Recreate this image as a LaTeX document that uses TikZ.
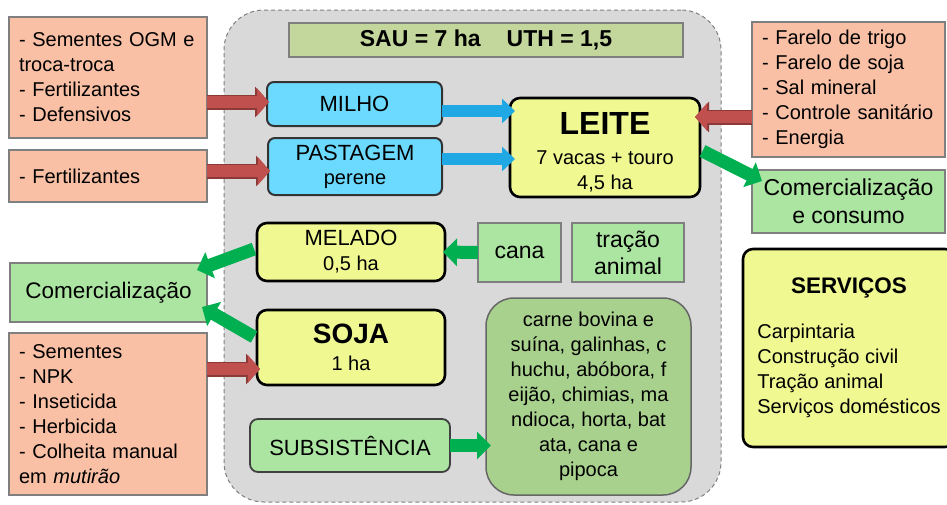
\documentclass[tikz,border=0pt]{standalone}
\usepackage{fontspec}
\setmainfont{Liberation Sans}
\usetikzlibrary{arrows.meta,calc}
\definecolor{peach}{HTML}{F9C0A5}
\definecolor{cyanf}{HTML}{6CDAFE}
\definecolor{yelf}{HTML}{EFF891}
\definecolor{lgreen}{HTML}{ACE5A1}
\definecolor{saug}{HTML}{C3D69B}
\definecolor{prodg}{HTML}{A9D18E}
\definecolor{regiong}{HTML}{D9D9D9}
\definecolor{edgegray}{HTML}{7F7F7F}
\definecolor{redar}{HTML}{C0504D}
\definecolor{redark}{HTML}{8C3A38}
\definecolor{bluear}{HTML}{1FA8E4}
\definecolor{greenar}{HTML}{00B050}
\begin{document}
\begin{tikzpicture}[x=1pt,y=-1pt,
  every node/.style={inner sep=0pt,outer sep=0pt,text=black},
  region/.style={draw=edgegray,dash pattern=on 4pt off 3pt,line width=1pt,fill=regiong,rounded corners=40pt},
  inbox/.style={draw=edgegray,line width=1.2pt,fill=peach,align=left,inner xsep=10pt,font=\fontsize{20}{25}\selectfont},
  outbox/.style={draw=edgegray,line width=1.2pt,fill=lgreen,align=center,font=\fontsize{23}{28}\selectfont},
  cyanbox/.style={draw=black!80,line width=2pt,fill=cyanf,rounded corners=7pt,align=center,font=\fontsize{22}{24}\selectfont},
  yelbox/.style={draw=black,line width=2.6pt,fill=yelf,rounded corners=10pt,align=center,font=\fontsize{20}{25}\selectfont},
  redarr/.style={preaction={draw=redark,line width=15pt,-{Triangle[length=14pt,width=30pt]}},
                 draw=redar,line width=12.5pt,-{Triangle[length=12pt,width=27pt]}},
  bluearr/.style={draw=bluear,line width=12pt,-{Triangle[length=13pt,width=24pt]}},
  greenarr/.style={draw=greenar,line width=13pt,-{Triangle[length=14pt,width=27pt]}}
]
\useasboundingbox (0,0) rectangle (947,504);

\node[region,minimum width=497pt,minimum height=492pt] (farm) at (472.5,256) {};
\node[draw=edgegray,line width=1.2pt,fill=saug,minimum width=394pt,minimum height=34pt,font=\fontsize{23}{25}\selectfont\bfseries] (sau) at (486,40) {SAU = 7 ha\hspace{26pt}UTH = 1,5};

\node[inbox,text width=178pt,minimum height=121pt] (in1) at (108,77.5) {- Sementes OGM e\\troca-troca\\- Fertilizantes\\- Defensivos};
\node[inbox,text width=178pt,minimum height=52pt] (in2) at (108,176) {- Fertilizantes};
\node[inbox,text width=173pt,minimum height=135pt] (in3) at (848.5,89.5) {- Farelo de trigo\\- Farelo de soja\\- Sal mineral\\- Controle sanitário\\- Energia};
\node[inbox,text width=178pt,minimum height=162pt] (in4) at (108,414) {- Sementes\\- NPK\\- Inseticida\\- Herbicida\\- Colheita manual\\em \textit{mutirão}};

\node[cyanbox,minimum width=175pt,minimum height=44pt] (milho) at (354.5,104) {MILHO};
\node[cyanbox,minimum width=174pt,minimum height=57pt] (past) at (355,166.5) {PASTAGEM\\{\fontsize{20}{24}\selectfont perene}};

\node[yelbox,minimum width=190pt,minimum height=99pt] (leite) at (605,147.5) {\rule{0pt}{32pt}{\fontsize{32}{34}\selectfont\bfseries LEITE}\\[5pt]7 vacas + touro\\4,5 ha};
\node[yelbox,minimum width=188pt,minimum height=58pt,font=\fontsize{22}{25}\selectfont] (melado) at (351,252) {MELADO\\{\fontsize{20}{25}\selectfont 0,5 ha}};
\node[yelbox,minimum width=188pt,minimum height=75pt] (soja) at (351,347.5) {{\fontsize{28}{30}\selectfont\bfseries SOJA}\\[2pt]1 ha};

\node[outbox,minimum width=83pt,minimum height=59pt] (cana) at (519.5,252.5) {cana};
\node[outbox,minimum width=112pt,minimum height=59pt,font=\fontsize{23}{27}\selectfont] (tracao) at (628,252.5) {tração\\animal};
\node[outbox,minimum width=197pt,minimum height=59pt,font=\fontsize{22.5}{27}\selectfont] (comL) at (108.5,292.5) {Comercialização};
\node[outbox,minimum width=193pt,minimum height=63pt,font=\fontsize{23}{28}\selectfont] (comR) at (848.5,201.5) {Comercialização\\e consumo};

\node[draw=black!75,line width=1.8pt,fill=lgreen,rounded corners=8pt,minimum width=200pt,minimum height=53pt,font=\fontsize{22}{24}\selectfont] (subs) at (350,445.5) {SUBSISTÊNCIA};
\node[draw=edgegray!80!black,line width=1.5pt,fill=prodg,rounded corners=28pt,minimum width=205pt,minimum height=197pt,align=center,font=\fontsize{20}{25}\selectfont] (prod) at (588.5,396.5) {carne bovina e\\suína, galinhas, c\\huchu, abóbora, f\\eijão, chimias, ma\\ndioca, horta, bat\\ata, cana e\\pipoca};

\node[yelbox,minimum width=212pt,minimum height=198pt] (serv) at (849,348) {\begin{tabular}{@{}l@{}}\multicolumn{1}{@{}c@{}}{\fontsize{22.5}{25}\selectfont\bfseries SERVIÇOS}\\[20pt]Carpintaria\\Construção civil\\Tração animal\\Serviços domésticos\end{tabular}};

\draw[redarr] ($(in1.east)+(0,24.5)$) -- ($(milho.west)+(2,-2)$);
\draw[redarr] ($(in2.east)+(0,-5)$) -- ($(past.west)+(2,4.5)$);
\draw[bluearr] ($(milho.east)+(0,7)$) -- ($(leite.west)+(5,-36.5)$);
\draw[bluearr] ($(past.east)+(0,-7.5)$) -- ($(leite.west)+(5,11.5)$);
\draw[redarr] ($(in3.west)+(0,27.5)$) -- ($(leite.east)+(-5,-30.5)$);
\draw[greenarr] ($(leite.east)+(2.5,3.5)$) -- ($(comR.north west)+(10,11)$);
\draw[greenarr] (cana.west) -- ($(melado.east)+(-2,0)$);
\draw[greenarr] ($(melado.west)+(-3,-3)$) -- ($(comL.north east)+(-10,7)$);
\draw[greenarr] ($(soja.west)+(-3,-10.5)$) -- ($(comL.east)+(-5,14.5)$);
\draw[redarr] ($(in4.east)+(0,-45)$) -- ($(soja.west)+(3,21.5)$);
\draw[greenarr] (subs.east) -- ($(prod.west)+(5,49)$);
\end{tikzpicture}
\end{document}
